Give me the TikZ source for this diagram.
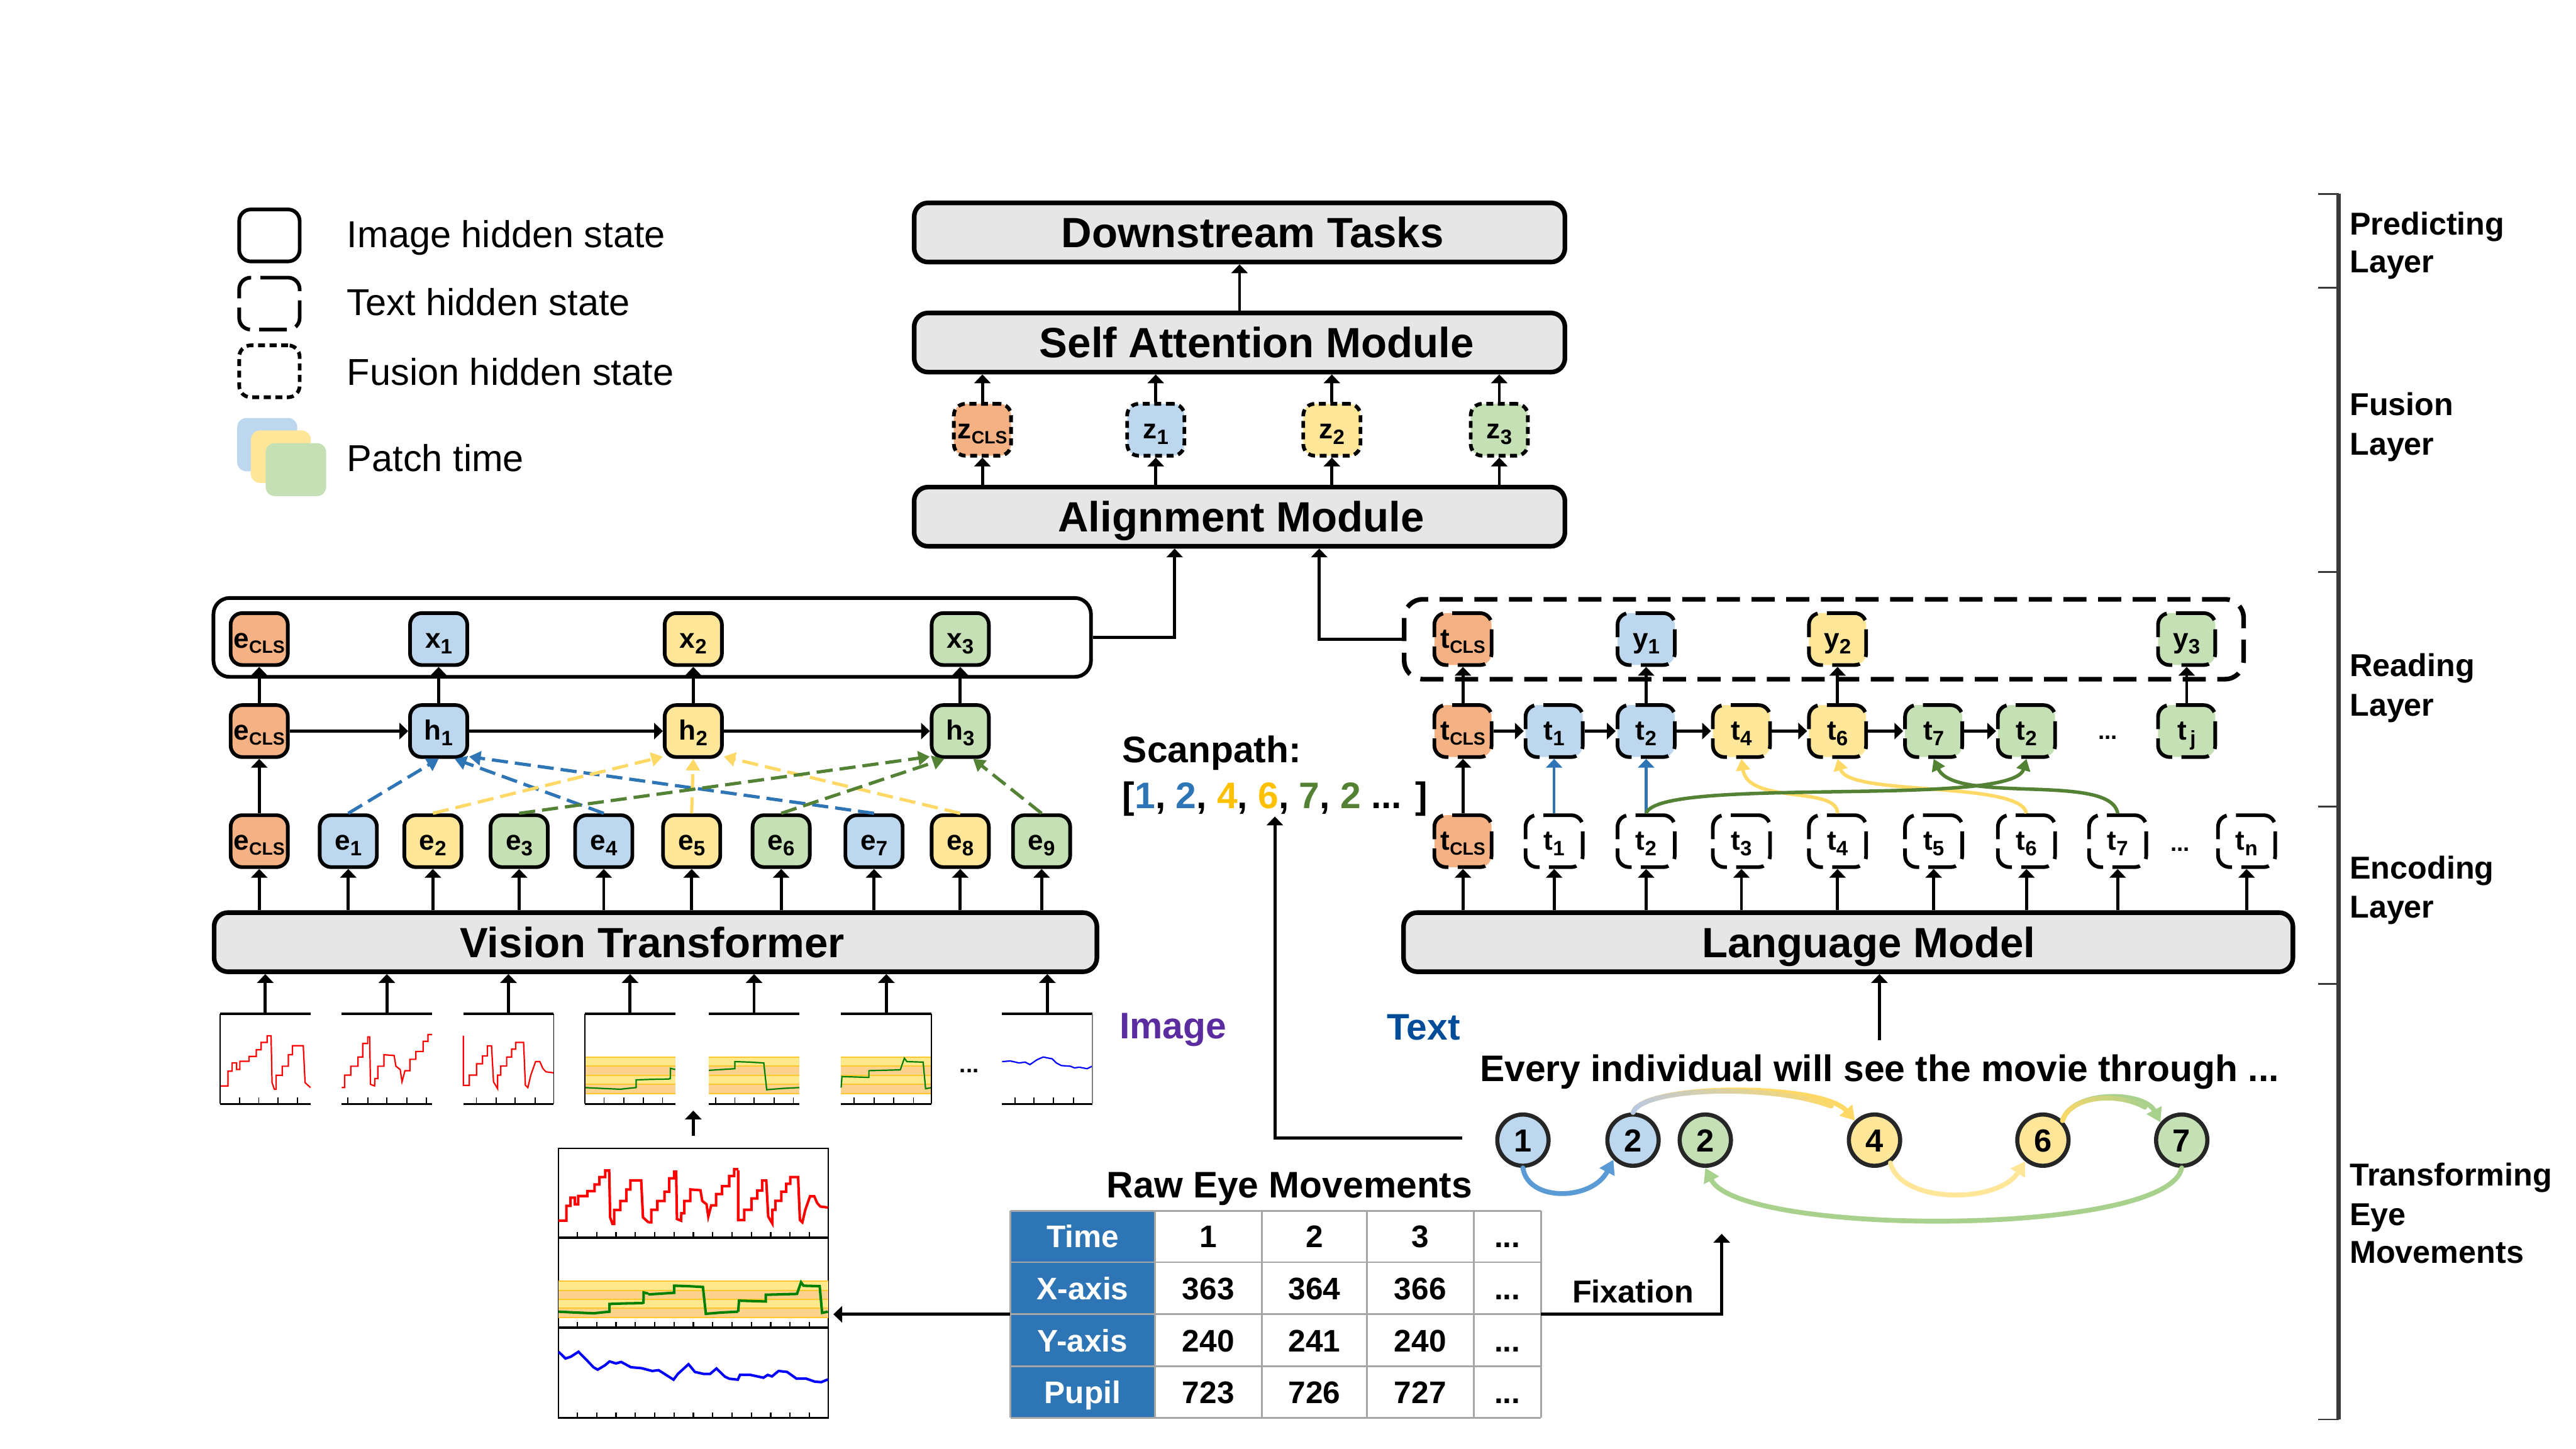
\documentclass[tikz,border=0pt]{standalone}
\usepackage{fontspec}
\setmainfont{Liberation Sans}
\usetikzlibrary{arrows.meta,calc}
\definecolor{corg}{HTML}{F4B183}
\definecolor{cblu}{HTML}{BDD7EE}
\definecolor{cyel}{HTML}{FFE699}
\definecolor{cgrn}{HTML}{C5E0B4}
\definecolor{modgray}{HTML}{E6E6E6}
\definecolor{dblue}{HTML}{2E75B6}
\definecolor{dyel}{HTML}{FFD966}
\definecolor{dgrn}{HTML}{548235}
\definecolor{gold}{HTML}{FFC000}
\definecolor{lblue}{HTML}{5B9BD5}
\definecolor{lgrn}{HTML}{A9D18E}
\definecolor{lyel}{HTML}{FFE699}
\definecolor{gAa}{HTML}{B4C7E7}
\definecolor{gBa}{HTML}{FFD966}
\definecolor{gAb}{HTML}{FFD966}
\definecolor{gBb}{HTML}{A9D18E}
\definecolor{imgpurple}{HTML}{5B2C9F}
\definecolor{txtblue}{HTML}{004C99}
\definecolor{gridgray}{HTML}{A6A6A6}
\definecolor{bandY}{HTML}{FFE98C}
\definecolor{bandO}{HTML}{FDD28C}
\definecolor{bandL}{HTML}{FFC72C}
\definecolor{sigred}{HTML}{FF0000}
\definecolor{siggrn}{HTML}{008000}
\definecolor{sigblu}{HTML}{0000FF}
\definecolor{brk}{HTML}{3A3A3A}

\newcommand\sbs[1]{\raisebox{-2.5pt}{\fontsize{9}{9}\selectfont #1}}
\newcommand\sbc{\raisebox{-2.3pt}{\fontsize{7.7}{7.7}\selectfont CLS}}

\newcommand\patchframe[1]{%
  \draw[line width=1pt] (0,0) -- (55,0);
  \draw[line width=1pt] (0,55) -- (55,55);
  \foreach \tk in {#1} \draw[line width=0.5pt] (\tk,55) -- (\tk,51);
}
\newcommand\bandfill[1]{%
  \fill[bandY] (0,26) rectangle (#1,32);
  \fill[bandO] (0,32) rectangle (#1,37.5);
  \fill[bandY] (0,37.5) rectangle (#1,43);
  \fill[bandO] (0,43) rectangle (#1,49);
  \foreach \bl in {26.5,32,37.5,43,48.6} \draw[bandL, line width=0.5pt] (0,\bl) -- (#1,\bl);
}
\newcommand\redA[1]{\draw[#1] (0,44) -- (4.8,44) -- (4.8,35) -- (7.3,35) -- (7.3,30) -- (10,30) -- (10,34) -- (12,34) -- (12,29) -- (17.6,29) -- (17.6,26) -- (22,26) -- (22,22) -- (25,22) -- (25,17.5) -- (28.6,17.5) -- (28.6,13.5) -- (31,13.5) -- (31.6,42) -- (33,46) -- (34.1,46) -- (34.1,37.5) -- (37.8,37.5) -- (37.8,32) -- (41.5,32) -- (41.5,25) -- (44,25) -- (44,19.5) -- (50.6,19.5) -- (51.7,42) -- (55,45);}
\newcommand\redB[1]{\draw[#1] (0,45) -- (1.8,45) -- (1.8,37.4) -- (5.5,37.4) -- (5.5,32) -- (9.9,32) -- (9.9,26.4) -- (12.8,26.4) -- (12.8,18.2) -- (15.8,18.2) -- (15.8,14.1) -- (17,14.1) -- (17.5,43) -- (20,44) -- (20.2,39.5) -- (22,39.5) -- (22,32) -- (25.7,32) -- (25.7,25) -- (31.9,25.5) -- (33,32) -- (35.6,34) -- (36.7,41.5) -- (38.5,34.7) -- (41.5,34.7) -- (41.5,27.8) -- (45.1,27.8) -- (45.1,23) -- (49.5,23) -- (49.5,16.8) -- (52.5,16.8) -- (52.5,12.7) -- (55,12.7);}
\newcommand\redC[1]{\draw[#1] (0,13.4) -- (0,43.6) -- (3.7,43.6) -- (3.7,37.4) -- (8.1,37.4) -- (8.1,30.5) -- (11.7,30.5) -- (11.7,25.7) -- (14.7,25.7) -- (14.7,19.6) -- (17.2,19.6) -- (18.4,41.5) -- (20.9,45.7) -- (20.9,37.4) -- (22.8,37.4) -- (22.8,31.9) -- (26.4,31.9) -- (26.4,26.4) -- (29.4,26.4) -- (29.4,21.6) -- (31.9,21.6) -- (31.9,17.5) -- (36.7,17.5) -- (37.8,43.6) -- (39.3,45) -- (41.1,37.4) -- (44,29.2) -- (46.6,29.2) -- (48.4,33.3) -- (50.3,35.4) -- (55,36);}
\newcommand\grnA[1]{\draw[#1] (0,45) -- (10,45.5) -- (21.7,46) -- (26,45.5) -- (31.2,45) -- (31.2,40.3) -- (40,40) -- (51,39.8) -- (52,39.5) -- (52.1,33.3) -- (55,34);}
\newcommand\grnB[1]{\draw[#1] (0,34.5) -- (8,34) -- (15.8,33.5) -- (15.8,29.2) -- (25,29.5) -- (33.4,30) -- (35.2,46.3) -- (45,45.5) -- (55,45);}
\newcommand\grnC[1]{\draw[#1] (0,45) -- (0.5,38.3) -- (16.9,38.8) -- (16.9,34.7) -- (36,34.2) -- (38.5,27.1) -- (40,29.2) -- (49.9,29.5) -- (51.4,45.7) -- (55,45);}
\newcommand\bluP[1]{\draw[#1] (0,29.2) -- (5,28.8) -- (10.3,30) -- (14,29.5) -- (16.9,31) -- (21.3,28) -- (25,26.4) -- (28,27) -- (30.5,27.5) -- (33,30) -- (36,31.6) -- (41.5,32) -- (44,33) -- (47,32.6) -- (51.7,33.5) -- (55,31.9);}

\tikzset{
  hs/.style={rounded corners=5pt, line width=1.6pt, minimum width=0.87cm, minimum height=0.79cm, inner sep=0pt, text height=8.6pt, text depth=1pt, font=\fontsize{12}{12}\selectfont\bfseries},
  imgn/.style={hs, draw=black},
  txtn/.style={hs, draw=black, dash pattern=on 12pt off 4pt},
  fusn/.style={hs, draw=black, dash pattern=on 3pt off 2pt},
  modbox/.style={draw=black, line width=2pt, rounded corners=6pt, fill=modgray, inner sep=0pt, minimum height=0.9cm},
  modtext/.style={inner sep=0pt, text height=13.1pt, text depth=0pt, font=\fontsize{18.3}{20}\selectfont\bfseries},
  lbl/.style={inner sep=0pt, text depth=0pt},
  arrtip/.style={-{Triangle[length=3.8pt,width=7pt]}},
  arr/.style={line width=1.3pt, arrtip},
  harr/.style={line width=1.45pt, arrtip},
  darr/.style={line width=1.4pt, dash pattern=on 7pt off 3pt, -{Triangle[length=5pt,width=6pt]}},
  carr/.style={line width=1.5pt, -{Triangle[length=5pt,width=6pt]}},
  circ/.style={circle, draw=black!85, line width=1.8pt, minimum size=0.78cm, inner sep=0pt, text height=9.9pt, text depth=0pt, font=\fontsize{13.8}{14}\selectfont\bfseries},
  sarr/.style={line width=2.1pt, line cap=round, -{Triangle[length=6pt,width=7pt]}},
  patchn/.style={minimum width=1.375cm, minimum height=1.375cm, inner sep=0pt, outer sep=0pt},
  tabtext/.style={lbl, text height=9.7pt, font=\fontsize{13.5}{14}\selectfont\bfseries},
  legtext/.style={lbl, anchor=west, text height=11.6pt, font=\fontsize{16.2}{18}\selectfont},
  laytext/.style={lbl, anchor=west, text height=9.8pt, font=\fontsize{13.7}{15}\selectfont\bfseries},
  bigtext/.style={lbl, text height=11.5pt, font=\fontsize{16}{18}\selectfont\bfseries},
}

\begin{document}
\begin{tikzpicture}[x=0.025cm,y=-0.025cm]
\useasboundingbox (0,0) rectangle (1568,882);
\fill[white] (0,0) rectangle (1568,882);

% ---------------- legend
\node[imgn, fill=white, minimum width=0.92cm] (lg1) at (164,143.3) {};
\node[txtn, fill=white, minimum width=0.92cm] (lg2) at (164,184.8) {};
\node[fusn, fill=white, minimum width=0.92cm] (lg3) at (164,226) {};
\fill[cblu, rounded corners=4pt] (144.4,254.4) rectangle (180.9,286.9);
\fill[cyel, rounded corners=4pt] (152.7,262) rectangle (189.2,294);
\fill[cgrn, rounded corners=4pt] (161.7,269.7) rectangle (198.5,302);
\node[legtext] (lt1) at (211,142.3) {Image hidden state};
\node[legtext] (lt2) at (211,183.7) {Text hidden state};
\node[legtext] (lt3) at (211,226.4) {Fusion hidden state};
\node[legtext] (lt4) at (211,278.7) {Patch time};

% ---------------- modules
\node[modbox, minimum width=9.9cm] (dt) at (754.5,141.5) {};
\node[modtext] (dtl) at (762.5,141.5) {Downstream Tasks};
\node[modbox, minimum width=9.9cm] (sa) at (754.5,208.5) {};
\node[modtext] (sal) at (765,208.5) {Self Attention Module};
\node[modbox, minimum width=9.9cm] (al) at (754.5,314.5) {};
\node[modtext] (all) at (755.5,314.5) {Alignment Module};
\node[modbox, minimum width=13.43cm] (vt) at (399,573.5) {};
\node[modtext] (vtl) at (397,573.5) {Vision Transformer};
\node[modbox, minimum width=13.53cm] (lm) at (1125,573.5) {};
\node[modtext] (lml) at (1137.5,573.5) {Language Model};

% ---------------- fusion layer
\node[fusn, fill=corg] (zc) at (598,261.6) {z\sbc};
\node[fusn, fill=cblu] (z1) at (703.5,261.6) {z\sbs{1}};
\node[fusn, fill=cyel] (z2) at (810.7,261.6) {z\sbs{2}};
\node[fusn, fill=cgrn] (z3) at (912.6,261.6) {z\sbs{3}};
\draw[arr] (sa.north) -- (dt.south);
\foreach \z in {zc,z1,z2,z3} {
  \draw[arr] (\z.south |- al.north) -- (\z.south);
  \draw[arr] (\z.north) -- (\z.north |- sa.south);
}

% ---------------- image side
\node[draw, line width=1.6pt, rounded corners=7pt, minimum width=13.35cm, minimum height=1.2cm, inner sep=0pt] (imgbox) at (397,388) {};
\node[imgn, fill=corg] (ex) at (157.8,389) {e\sbc};
\node[imgn, fill=cblu] (x1) at (267,389) {x\sbs{1}};
\node[imgn, fill=cyel] (x2) at (422,389) {x\sbs{2}};
\node[imgn, fill=cgrn] (x3) at (584.5,389) {x\sbs{3}};
\node[imgn, fill=corg] (eh) at (157.8,445) {e\sbc};
\node[imgn, fill=cblu] (h1) at (267,445) {h\sbs{1}};
\node[imgn, fill=cyel] (h2) at (422,445) {h\sbs{2}};
\node[imgn, fill=cgrn] (h3) at (584.5,445) {h\sbs{3}};
\node[imgn, fill=corg] (e0) at (157.8,512) {e\sbc};
\node[imgn, fill=cblu] (e1) at (212,512) {e\sbs{1}};
\node[imgn, fill=cyel] (e2) at (263.5,512) {e\sbs{2}};
\node[imgn, fill=cgrn] (e3) at (316,512) {e\sbs{3}};
\node[imgn, fill=cblu] (e4) at (367.5,512) {e\sbs{4}};
\node[imgn, fill=cyel] (e5) at (421,512) {e\sbs{5}};
\node[imgn, fill=cgrn] (e6) at (475.5,512) {e\sbs{6}};
\node[imgn, fill=cblu] (e7) at (532,512) {e\sbs{7}};
\node[imgn, fill=cyel] (e8) at (584.5,512) {e\sbs{8}};
\node[imgn, fill=cgrn] (e9) at (634,512) {e\sbs{9}};

\draw[arr] (imgbox.east) -| ($(al.south)+(-39.5,0)$);
\draw[arr] (e0) -- (eh);
\draw[arr] (eh) -- (ex);
\draw[arr] (h1) -- (x1);
\draw[arr] (h2) -- (x2);
\draw[arr] (h3) -- (x3);
\draw[harr] (eh) -- (h1);
\draw[harr] (h1) -- (h2);
\draw[harr] (h2) -- (h3);
\foreach \n in {e0,e1,e2,e3,e4,e5,e6,e7,e8,e9}
  \draw[arr] (\n.south |- vt.north) -- (\n.south);

\draw[darr, dblue] (e1.north) -- (h1.south);
\draw[darr, dblue] (e4.north) -- (h1.-60);
\draw[darr, dblue] (e7.north) -- (h1.-40);
\draw[darr, dyel] (e2.north) -- (h2.-140);
\draw[darr, dyel] (e5.north) -- (h2.south);
\draw[darr, dyel] (e8.north) -- (h2.-40);
\draw[darr, dgrn] (e3.north) -- (h3.-140);
\draw[darr, dgrn] (e6.north) -- (h3.-120);
\draw[darr, dgrn] (e9.north) -- (h3.-65);

% ---------------- scanpath
\node[bigtext, anchor=west] (scanA) at (683,456) {Scanpath:};
\node[bigtext, anchor=west] (scanB) at (683,484) {[\textcolor{dblue}{1}, \textcolor{dblue}{2}, \textcolor{gold}{4}, \textcolor{gold}{6}, \textcolor{dgrn}{7}, \textcolor{dgrn}{2} ... ]};

% ---------------- text side
\node[draw, line width=2pt, rounded corners=8pt, dash pattern=on 10pt off 5pt, minimum width=12.77cm, minimum height=1.215cm, inner sep=0pt] (txtbox) at (1110.2,389.1) {};
\node[txtn, fill=corg] (tt0) at (890.5,389) {t\sbc};
\node[txtn, fill=cblu] (y1) at (1002,389) {y\sbs{1}};
\node[txtn, fill=cyel] (y2) at (1118.5,389) {y\sbs{2}};
\node[txtn, fill=cgrn] (y3) at (1331,389) {y\sbs{3}};
\node[txtn, fill=corg] (tm0) at (890.5,445) {t\sbc};
\node[txtn, fill=cblu] (tm1) at (946,445) {t\sbs{1}};
\node[txtn, fill=cblu] (tm2) at (1002,445) {t\sbs{2}};
\node[txtn, fill=cyel] (tm4) at (1060,445) {t\sbs{4}};
\node[txtn, fill=cyel] (tm6) at (1118.5,445) {t\sbs{6}};
\node[txtn, fill=cgrn] (tm7) at (1177,445) {t\sbs{7}};
\node[txtn, fill=cgrn] (tm8) at (1233.5,445) {t\sbs{2}};
\node[txtn, fill=cgrn] (tmj) at (1331,445) {t\sbs{\,j}};
\node[txtn, fill=corg] (tb0) at (890.5,512) {t\sbc};
\node[txtn, fill=white] (tb1) at (946,512) {t\sbs{1}};
\node[txtn, fill=white] (tb2) at (1002,512) {t\sbs{2}};
\node[txtn, fill=white] (tb3) at (1060,512) {t\sbs{3}};
\node[txtn, fill=white] (tb4) at (1118.5,512) {t\sbs{4}};
\node[txtn, fill=white] (tb5) at (1177,512) {t\sbs{5}};
\node[txtn, fill=white] (tb6) at (1233.5,512) {t\sbs{6}};
\node[txtn, fill=white] (tb7) at (1289,512) {t\sbs{7}};
\node[txtn, fill=white] (tbn) at (1367.5,512) {t\sbs{n}};
\node[lbl, font=\fontsize{10}{10}\selectfont\bfseries] (dotm) at (1283,449) {...};
\node[lbl, font=\fontsize{10}{10}\selectfont\bfseries] (dotb) at (1327,517) {...};

\draw[arr] (txtbox.west) -| ($(al.south)+(48.5,0)$);
\draw[arr] (tb0) -- (tm0);
\draw[arr] (tm0) -- (tt0);
\draw[arr] (tm2) -- (y1);
\draw[arr] (tm6) -- (y2);
\draw[arr] (tmj) -- (y3);
\draw[harr] (tm0) -- (tm1);
\draw[harr] (tm1) -- (tm2);
\draw[harr] (tm2) -- (tm4);
\draw[harr] (tm4) -- (tm6);
\draw[harr] (tm6) -- (tm7);
\draw[harr] (tm7) -- (tm8);
\draw[line width=1.1pt, dblue, arrtip] (tb1) -- (tm1);
\draw[line width=1.1pt, dblue, arrtip] (tb2) -- (tm2);
\draw[carr, dyel] (tb4.north) .. controls +(0,-17) and +(4,28) .. (tm4.south);
\draw[carr, dyel] (tb6.north) .. controls +(-3.5,-20) and +(6.5,23) .. (tm6.south);
\draw[carr, dgrn] (tb7.north) .. controls +(-4,-25) and +(13,28) .. (tm7.south);
\draw[carr, dgrn] (tb2.north) .. controls +(8,-23) and +(-8.5,30) .. (tm8.south);
\foreach \n in {tb0,tb1,tb2,tb3,tb4,tb5,tb6,tb7,tbn}
  \draw[arr] (\n.south |- lm.north) -- (\n.south);

% ---------------- labels
\node[bigtext, text=imgpurple] (imglab) at (714,624) {Image};
\node[bigtext, text=txtblue] (txtlab) at (866.5,625) {Text};
\node[bigtext] (sent) at (1144,650) {Every individual will see the movie through ...};
\coordinate (sentop) at (1144,633);
\draw[arr] (sentop) -- (sentop |- lm.south);

% ---------------- patches
\node[patchn] (p1) at (161.5,644.5) {};
\node[patchn] (p2) at (235.5,644.5) {};
\node[patchn] (p3) at (309.5,644.5) {};
\node[patchn] (p4) at (383.5,644.5) {};
\node[patchn] (p5) at (459,644.5) {};
\node[patchn] (p6) at (539.5,644.5) {};
\node[patchn] (p7) at (637.5,644.5) {};
\begin{scope}[shift={(134,617)}]
  \redA{sigred, line width=0.6pt}
  \patchframe{11.7,23.5,35.2,47.2}
  \draw[line width=0.4pt] (0,0) -- (0,55);
\end{scope}
\begin{scope}[shift={(208,617)}]
  \redB{sigred, line width=0.6pt}
  \patchframe{3.7,15.8,27.5,39.6,51.4}
\end{scope}
\begin{scope}[shift={(282,617)}]
  \redC{sigred, line width=0.6pt}
  \patchframe{8,20,31.6,43.7}
  \draw[line width=0.4pt] (55,0) -- (55,55);
\end{scope}
\begin{scope}[shift={(356,617)}]
  \bandfill{55}
  \grnA{siggrn, line width=0.6pt}
  \patchframe{11.7,23.8,35.6,47.3}
  \draw[line width=0.4pt] (0,0) -- (0,55);
\end{scope}
\begin{scope}[shift={(431.5,617)}]
  \bandfill{55}
  \grnB{siggrn, line width=0.6pt}
  \patchframe{4,15.8,27.5,39.6,51.4}
\end{scope}
\begin{scope}[shift={(512,617)}]
  \bandfill{55}
  \grnC{siggrn, line width=0.6pt}
  \patchframe{7.7,20,31.9,44}
  \draw[line width=0.4pt] (55,0) -- (55,55);
\end{scope}
\begin{scope}[shift={(610,617)}]
  \bluP{sigblu, line width=0.6pt}
  \patchframe{7.7,19.4,31.2,43.3}
  \draw[gray, line width=0.4pt] (55,0) -- (55,55);
\end{scope}
\node[lbl, font=\fontsize{10}{10}\selectfont\bfseries] (dotp) at (590,652) {...};
\foreach \n in {p1,p2,p3,p4,p5,p6,p7}
  \draw[arr] (\n.north) -- (\n.north |- vt.south);

% ---------------- big figure
\node[draw, line width=0.6pt, minimum width=4.1cm, minimum height=4.1cm, inner sep=0pt] (bigfig) at (422,781) {};
\begin{scope}[shift={(340,699)}]
  \begin{scope}[shift={(0,54.4)}]\bandfill{164}\end{scope}
  \begin{scope}[xscale=0.9939]
    \redA{sigred, line width=1.1pt}
    \begin{scope}[shift={(55,0)}]\redB{sigred, line width=1.1pt}\end{scope}
    \begin{scope}[shift={(110,0)}]\redC{sigred, line width=1.1pt}\end{scope}
    \begin{scope}[shift={(0,54.4)}]
      \grnA{siggrn, line width=1.1pt}
      \begin{scope}[shift={(55,0)}]\grnB{siggrn, line width=1.1pt}\end{scope}
      \begin{scope}[shift={(110,0)}]\grnC{siggrn, line width=1.1pt}\end{scope}
    \end{scope}
  \end{scope}
  \begin{scope}[shift={(0,109)}]
    \draw[sigblu, line width=1.1pt] (0,14.8) -- (4.2,18.9) -- (7.5,17.8) -- (12.1,14.8) -- (17.9,20.7) -- (21.2,24.2) -- (23.8,25.7) -- (28.3,23) -- (31,20.7) -- (34.9,21.9) -- (38.1,21) -- (44,24.2) -- (50.5,24.8) -- (57,26.5) -- (60.9,26) -- (70,31.8) -- (72.6,28.3) -- (79.1,22.4) -- (83,27.1) -- (88.3,28.3) -- (92.2,28.3) -- (96.1,25) -- (101.3,30) -- (103.9,31.2) -- (109.1,31.8) -- (110.4,28.9) -- (116.9,28.9) -- (124.7,30.6) -- (127.3,28.9) -- (129.9,29.8) -- (133.9,26.5) -- (139.1,27.1) -- (144.9,31.2) -- (150.8,31.2) -- (156,33) -- (159.9,33.3) -- (164,31.6);
  \end{scope}
  \foreach \yy in {54.4,109,164} {
    \draw[line width=1pt] (0,\yy) -- (164,\yy);
    \foreach \k in {0,...,12} \draw[line width=0.6pt] ({11.4+\k*11.77},\yy) -- ++(0,-3.3);
  }
\end{scope}
\coordinate (bigfrom) at (422,691.5);
\coordinate (bigtip) at (422,676);
\draw[arr] (bigfrom) -- (bigtip);

% ---------------- table
\node[bigtext] (tabtitle) at (785,721) {Raw Eye Movements};
\node[minimum width=8.075cm, minimum height=3.15cm, inner sep=0pt, outer sep=0pt] (tab) at (776.5,800) {};
\fill[dblue] (615,737) rectangle (703,863);
\foreach \yy in {737,768.3,800,831.8,863} \draw[gridgray, line width=0.8pt] (615,\yy) -- (938,\yy);
\foreach \xx in {615,703,768,832,897,938} \draw[gridgray, line width=0.8pt] (\xx,737) -- (\xx,863);
\foreach \nm/\va/\vb/\vc/\yy/\r in {Time/1/2/3/752.6/0, X-axis/363/364/366/784.2/1, Y-axis/240/241/240/815.9/2, Pupil/723/726/727/847.4/3} {
  \node[tabtext, text=white] (tr\r) at (659,\yy) {\nm};
  \node[tabtext] (ta\r) at (735.5,\yy) {\va};
  \node[tabtext] (tc\r) at (800,\yy) {\vb};
  \node[tabtext] (te\r) at (864.5,\yy) {\vc};
  \node[tabtext] (td\r) at (917.5,\yy) {...};
}
\draw[arr, shorten >=2pt] (tab.west) -- (tab.west -| bigfig.east);
\coordinate (fixtip) at (1048,751);
\draw[arr] (tab.east) -| (fixtip);
\node[lbl, text height=9.8pt, font=\fontsize{13.7}{15}\selectfont\bfseries] (fixlab) at (994,786) {Fixation};

% ---------------- fixation circles
\node[circ, fill=cblu] (c1) at (927,694) {1};
\node[circ, fill=cblu] (c2b) at (994,694) {2};
\node[circ, fill=cgrn] (c2g) at (1038,694) {2};
\node[circ, fill=cyel] (c4) at (1141,694) {4};
\node[circ, fill=cyel] (c6) at (1243.5,694) {6};
\node[circ, fill=cgrn] (c7) at (1328,694) {7};

\draw[sarr, lblue] (c1.south) .. controls +(3,21) and +(-13,25) .. (c2b.-135);
\draw[sarr, lyel] (c4.-55) .. controls +(6,25) and +(-16.5,26) .. (c6.-130);
\draw[sarr, lgrn] (c7.south) .. controls +(-8,42) and +(21,42) .. (c2g.south);

\draw[sarr, gBa] (c2b.north) .. controls +(6,-18) and +(-20,-23) .. (c4.135);
\path (c2b.north) .. controls +(6,-18) and +(-20,-23) .. (c4.135)
  \foreach \k [evaluate=\k as \q using \k/20] in {0,...,20} { coordinate[pos=\q] (ga\k) };
\foreach \k [evaluate=\k as \kk using int(\k+1), evaluate=\k as \pc using int(100-\k*100/17)] in {0,...,16}
  \draw[line width=2.1pt, line cap=round, color={gAa!\pc!gBa}] (ga\k) -- (ga\kk);

\draw[sarr, gBb] (c6.45) .. controls +(6,-19) and +(-10,-19) .. (c7.140);
\path (c6.45) .. controls +(6,-19) and +(-10,-19) .. (c7.140)
  \foreach \k [evaluate=\k as \q using \k/20] in {0,...,20} { coordinate[pos=\q] (gb\k) };
\foreach \k [evaluate=\k as \kk using int(\k+1), evaluate=\k as \pc using int(100-\k*100/16)] in {0,...,15}
  \draw[line width=2.1pt, line cap=round, color={gAb!\pc!gBb}] (gb\k) -- (gb\kk);

\coordinate (scanfrom) at (890,692.6);
\coordinate (scantip) at (776,497);
\draw[arr] (scanfrom) -| (scantip);

% ---------------- layer bracket
\draw[brk, line width=1.8pt] (1423.5,118) -- (1423.5,864);
\foreach \ty in {118,175,348,491,599,864} \draw[brk, line width=0.8pt] (1411,\ty) -- (1423.5,\ty);
\foreach \txt/\yy/\nm in {Predicting/136/r1, Layer/159/r2, Fusion/246/r3, Layer/270/r4, Reading/405/r5, Layer/429/r6, Encoding/528/r7, Layer/552/r8, Transforming/715/r9, Eye/739/r10, Movements/762/r11}
  \node[laytext] (\nm) at (1430,\yy) {\txt};
\end{tikzpicture}
\end{document}
